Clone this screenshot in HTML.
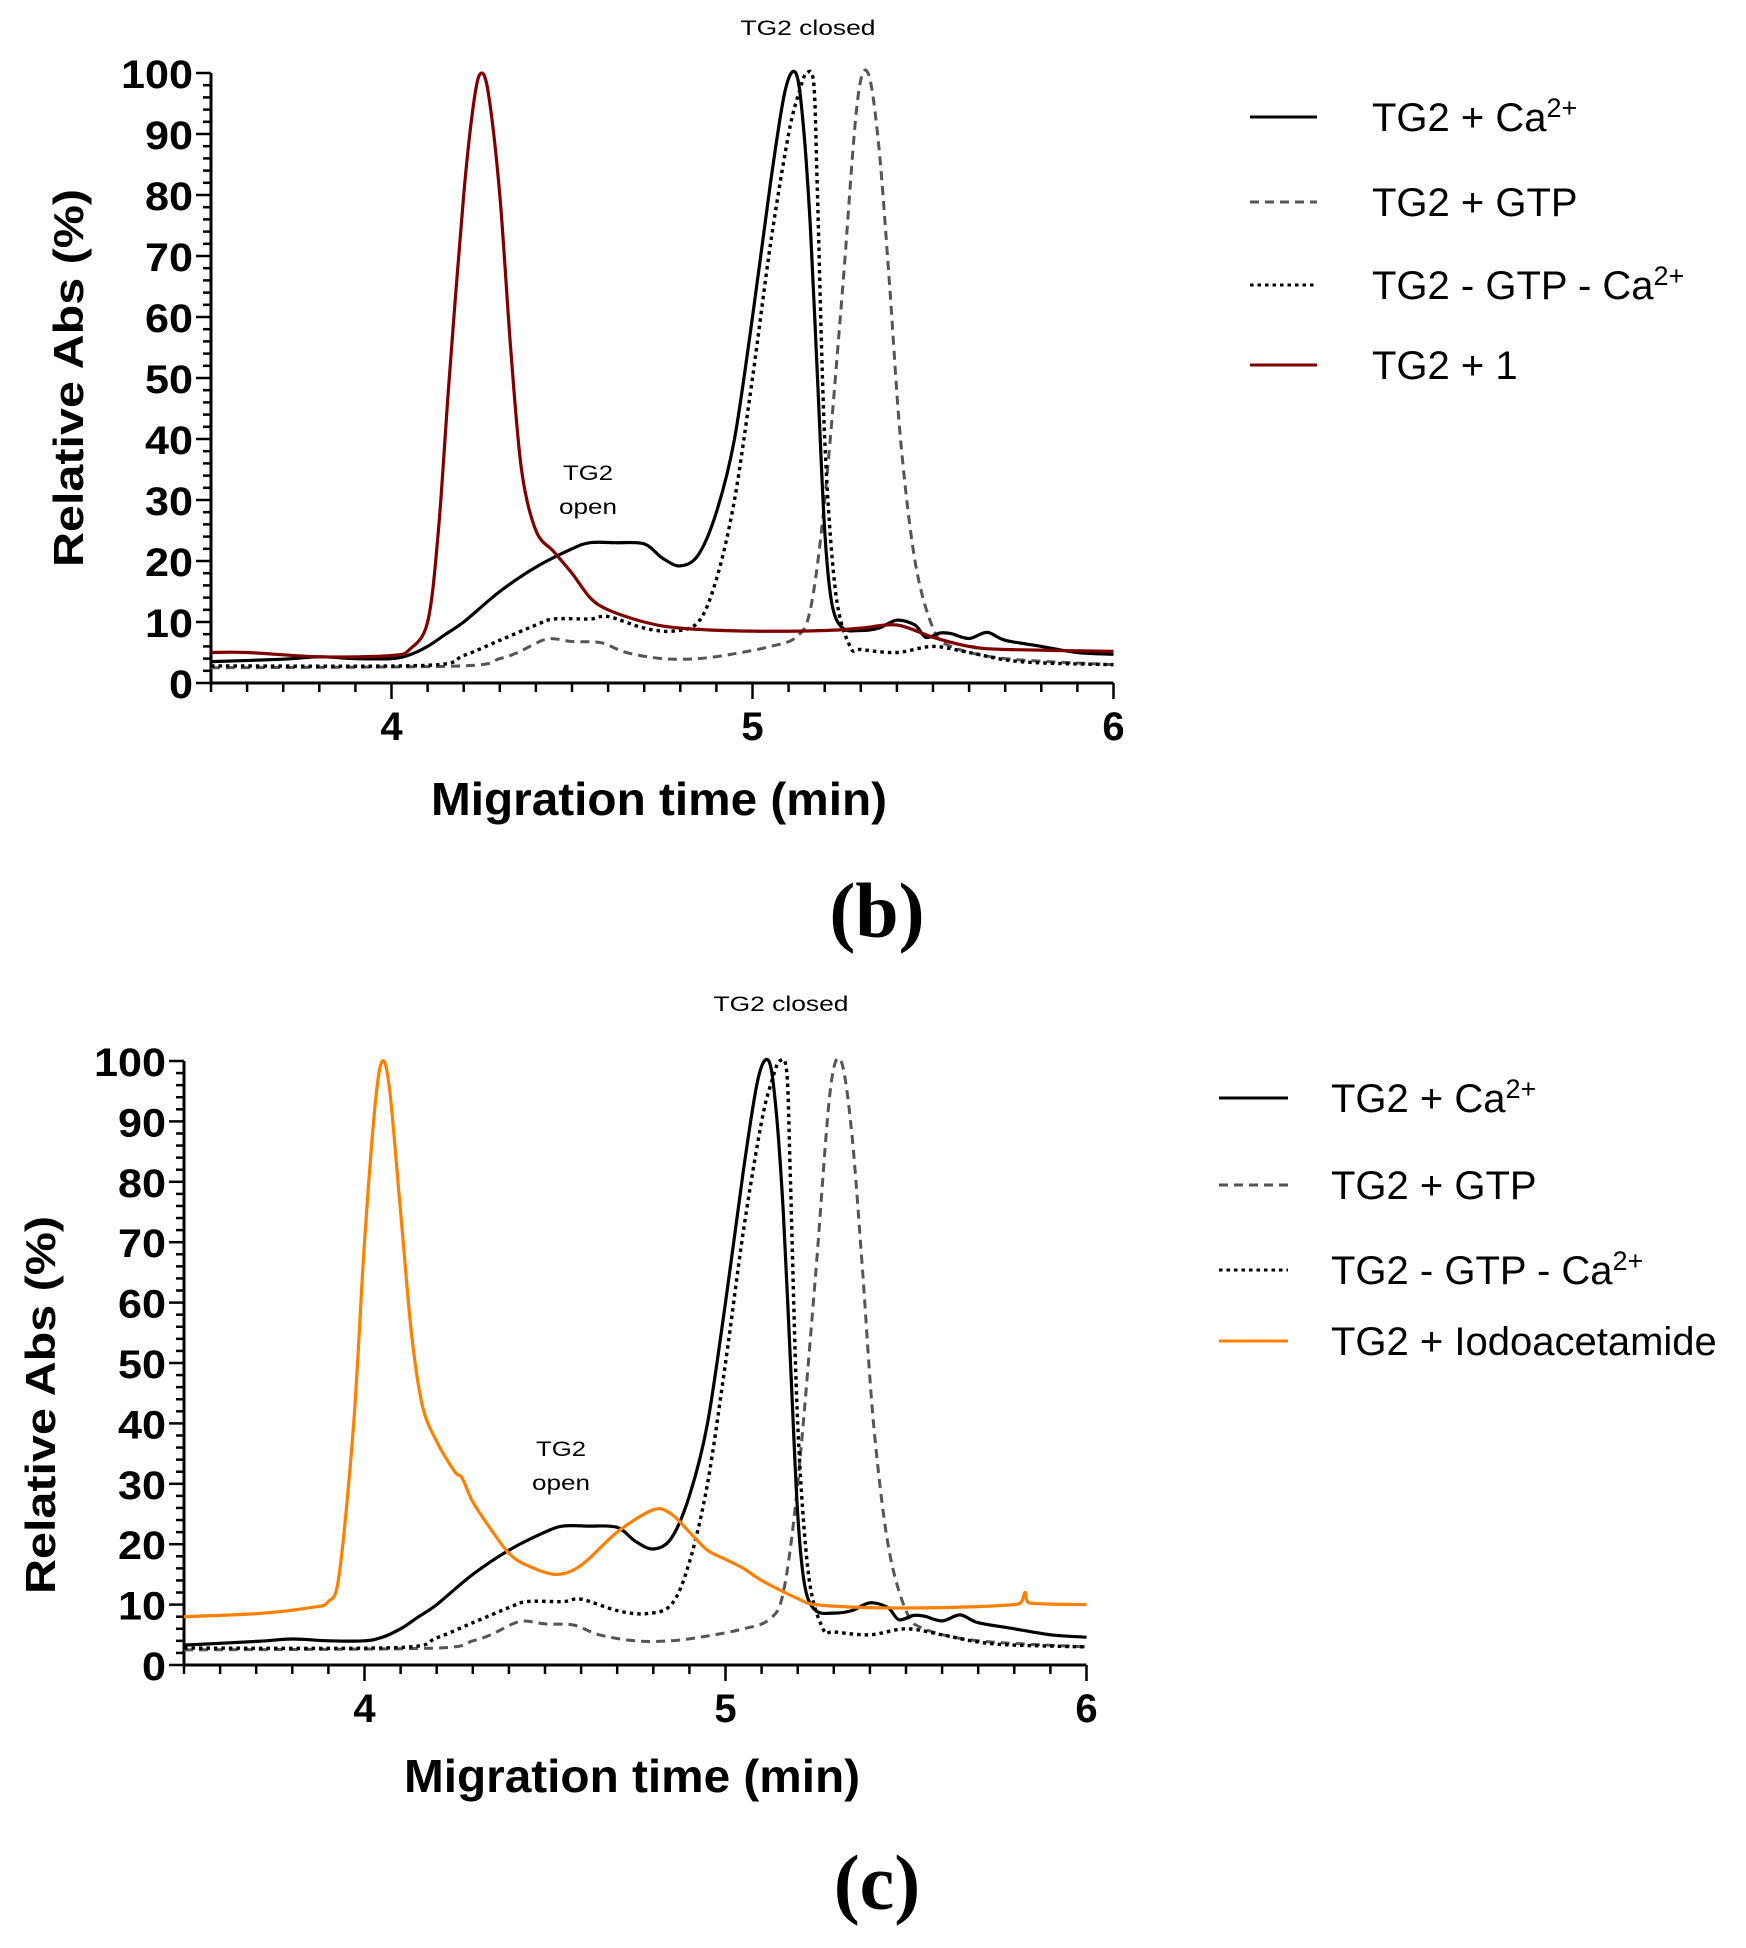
<!DOCTYPE html>
<html><head><meta charset="utf-8"><style>
html,body{margin:0;padding:0;background:#fff;}
svg{display:block;}
text{font-family:"Liberation Sans",sans-serif;}
</style></head><body>
<svg id="s" width="1746" height="1948" viewBox="0 0 1746 1948" xmlns="http://www.w3.org/2000/svg">
<rect width="1746" height="1948" fill="#fff"/>
<g id="g"></g>
<text x="808" y="35" font-size="21" text-anchor="middle" textLength="135" lengthAdjust="spacingAndGlyphs">TG2 closed</text>
<text x="588" y="480" font-size="21" text-anchor="middle" textLength="50" lengthAdjust="spacingAndGlyphs">TG2</text>
<text x="588" y="514" font-size="21" text-anchor="middle" textLength="58" lengthAdjust="spacingAndGlyphs">open</text>
<text transform="translate(83,378) rotate(-90)" font-size="42" font-weight="bold" text-anchor="middle" textLength="378" lengthAdjust="spacingAndGlyphs">Relative Abs (%)</text>
<text x="659" y="815" font-size="46" font-weight="bold" text-anchor="middle" textLength="456" lengthAdjust="spacingAndGlyphs">Migration time (min)</text>
<text x="877" y="937" font-size="78" font-weight="bold" text-anchor="middle" style="font-family:'Liberation Serif',serif">(b)</text>
<text x="781" y="1011" font-size="21" text-anchor="middle" textLength="135" lengthAdjust="spacingAndGlyphs">TG2 closed</text>
<text x="561" y="1456" font-size="21" text-anchor="middle" textLength="50" lengthAdjust="spacingAndGlyphs">TG2</text>
<text x="561" y="1490" font-size="21" text-anchor="middle" textLength="58" lengthAdjust="spacingAndGlyphs">open</text>
<text transform="translate(55,1405) rotate(-90)" font-size="42" font-weight="bold" text-anchor="middle" textLength="378" lengthAdjust="spacingAndGlyphs">Relative Abs (%)</text>
<text x="632" y="1792" font-size="46" font-weight="bold" text-anchor="middle" textLength="456" lengthAdjust="spacingAndGlyphs">Migration time (min)</text>
<text x="877" y="1909" font-size="78" font-weight="bold" text-anchor="middle" style="font-family:'Liberation Serif',serif">(c)</text>
</svg>
<script>
var NS="http://www.w3.org/2000/svg",G=document.getElementById('g');
function el(t,a,txt){var e=document.createElementNS(NS,t);for(var k in a)e.setAttribute(k,a[k]);if(txt!==undefined)e.textContent=txt;G.appendChild(e);return e;}
function axes(P){
 var X=function(t){return P.x0+(t-3.5)*P.sx;},Y=function(v){return P.y0-v*P.sy;};
 el('line',{x1:P.x0,y1:Y(100),x2:P.x0,y2:P.y0+1.5,stroke:'#000','stroke-width':3});
 el('line',{x1:P.x0-1.5,y1:P.y0,x2:X(6),y2:P.y0,stroke:'#000','stroke-width':3});
 for(var v=0;v<=100;v+=2){var mj=v%10==0;el('line',{x1:P.x0-(mj?15:8),y1:Y(v),x2:P.x0,y2:Y(v),stroke:'#000','stroke-width':2.5});
  if(mj)el('text',{x:P.x0-18,y:Y(v)+15,'font-size':40,'font-weight':'bold','text-anchor':'end',textLength:(v==100?72:v==0?24:48),lengthAdjust:'spacingAndGlyphs'},''+v);}
 for(var i=0;i<=25;i++){var t=3.5+i*0.1,mj=Math.abs(t-Math.round(t))<1e-6;el('line',{x1:X(t),y1:P.y0,x2:X(t),y2:P.y0+(mj?16:9),stroke:'#000','stroke-width':2.5});
  if(mj)el('text',{x:X(t),y:P.y0+57,'font-size':40,'font-weight':'bold','text-anchor':'middle'},''+Math.round(t));}
 P.X=X;P.Y=Y;
}
function curve(P,d,st){var p=[];for(var i=0;i<d.length;i+=2)p.push([P.X(d[i]),P.Y(d[i+1])]);
 var s='M'+p[0][0].toFixed(1)+','+p[0][1].toFixed(1);
 for(var i=0;i<p.length-1;i++){var p0=p[i-1]||p[i],p1=p[i],p2=p[i+1],p3=p[i+2]||p2,k=0.16;
  var c1x=p1[0]+(p2[0]-p0[0])*k,c1y=p1[1]+(p2[1]-p0[1])*k,c2x=p2[0]-(p3[0]-p1[0])*k,c2y=p2[1]-(p3[1]-p1[1])*k;
  c1x=Math.max(p1[0],Math.min(p2[0],c1x));c2x=Math.max(p1[0],Math.min(p2[0],c2x));
  s+='C'+c1x.toFixed(1)+','+c1y.toFixed(1)+' '+c2x.toFixed(1)+','+c2y.toFixed(1)+' '+p2[0].toFixed(1)+','+p2[1].toFixed(1);}
 var a={d:s,fill:'none',stroke:st.c,'stroke-width':st.w||3,'stroke-linejoin':'round'};if(st.da)a['stroke-dasharray']=st.da;el('path',a);}
function legend(x1,x2,tx,ys,items){items.forEach(function(it,i){var a={x1:x1,y1:ys[i],x2:x2,y2:ys[i],stroke:it.c,'stroke-width':it.w||3};if(it.da)a['stroke-dasharray']=it.da;el('line',a);
 var t=el('text',{x:tx,y:ys[i]+14,'font-size':40});t.textContent=it.t;if(it.sup){var s=document.createElementNS(NS,'tspan');s.setAttribute('dy','-14');s.setAttribute('font-size','27');s.textContent='2+';t.appendChild(s);}});}
var Ca=[3.5,3.5,3.7,3.9,3.8,4.3,3.9,4.0,4.0,4.0,4.05,4.6,4.1,6,4.15,8,4.2,10,4.3,15,4.4,19,4.5,22,4.55,23,4.62,23,4.7,22.8,4.75,20.5,4.8,19.2,4.85,21,4.9,28,4.95,40,5.0,60,5.05,82,5.09,97,5.12,100,5.14,92,5.16,75,5.18,50,5.2,25,5.22,13,5.25,9,5.3,8.6,5.35,9,5.4,10.3,5.45,9.5,5.48,7.5,5.52,8.2,5.55,8.1,5.6,7.3,5.65,8.3,5.7,7,5.8,6,5.9,5.0,6.0,4.7];
var GTP=[3.5,2.5,4.2,2.8,4.3,4,4.35,5,4.43,7.2,4.5,6.8,4.58,6.6,4.65,5,4.75,4,4.85,4,4.95,4.8,5.05,6,5.12,7.5,5.16,12,5.2,30,5.25,65,5.29,95,5.32,100,5.35,88,5.38,65,5.41,40,5.45,20,5.5,9,5.55,6,5.7,4,6.0,3];
var Dot=[3.5,2.8,4.1,2.9,4.2,4.5,4.3,7,4.4,9.5,4.45,10.5,4.55,10.5,4.6,10.9,4.7,9,4.78,8.5,4.85,10,4.9,17,4.95,30,5.0,50,5.05,72,5.1,90,5.13,97,5.15,100,5.17,98,5.18,80,5.2,40,5.23,15,5.27,6,5.3,5.5,5.4,5,5.5,6,5.6,5,5.7,3.8,5.8,3.3,6.0,3];
var Red=[3.5,5,3.6,5,3.8,4.3,4.0,4.5,4.05,5.5,4.1,10,4.13,25,4.16,50,4.2,80,4.23,96,4.25,100,4.27,96,4.3,80,4.33,55,4.36,35,4.4,25,4.45,21.5,4.5,18,4.55,14,4.6,12,4.7,10,4.8,9,5.0,8.5,5.2,8.6,5.3,9,5.4,9.5,5.5,7.5,5.6,6,5.7,5.5,6.0,5.2];
var Or=[3.5,8,3.7,8.5,3.85,9.5,3.9,10.5,3.93,15,3.97,40,4.0,70,4.03,93,4.05,100,4.07,95,4.1,75,4.13,55,4.16,43,4.2,37,4.25,32,4.27,31,4.3,27,4.35,22.5,4.4,18.5,4.45,16.5,4.53,15,4.6,16.5,4.7,22,4.8,25.7,4.85,25,4.9,22,4.95,19,5.0,17.5,5.05,16,5.1,14,5.2,11,5.25,10,5.4,9.5,5.6,9.5,5.8,10,5.82,10.5,5.83,12,5.84,10.3,6.0,10];
var sCa={c:'#000',w:3.2},sG={c:'#555',w:3,da:'9,6'},sD={c:'#000',w:3.4,da:'3.5,4'};
var Pb={x0:211,sx:361,y0:683,sy:6.1};axes(Pb);
curve(Pb,GTP,sG);curve(Pb,Dot,sD);curve(Pb,Ca,sCa);curve(Pb,Red,{c:'#800000',w:3.2});
legend(1250,1317,1372,[117,202,285,365],[{c:'#000',t:'TG2 + Ca',sup:1},{c:'#555',da:'9,6',t:'TG2 + GTP'},{c:'#000',da:'3.5,4',t:'TG2 - GTP - Ca',sup:1},{c:'#800000',t:'TG2 + 1'}]);
var Pc={x0:184,sx:361,y0:1665,sy:6.04};axes(Pc);
curve(Pc,GTP,sG);curve(Pc,Dot,sD);
var Ca2=Ca.slice();Ca2[1]=3.3;Ca2[Ca2.length-1]=4.6;
curve(Pc,Ca2,sCa);curve(Pc,Or,{c:'#ff8000',w:3.2});
legend(1219,1288,1331,[1098,1185,1270,1341],[{c:'#000',t:'TG2 + Ca',sup:1},{c:'#555',da:'9,6',t:'TG2 + GTP'},{c:'#000',da:'3.5,4',t:'TG2 - GTP - Ca',sup:1},{c:'#ff8000',t:'TG2 + Iodoacetamide'}]);
</script>
</body></html>
